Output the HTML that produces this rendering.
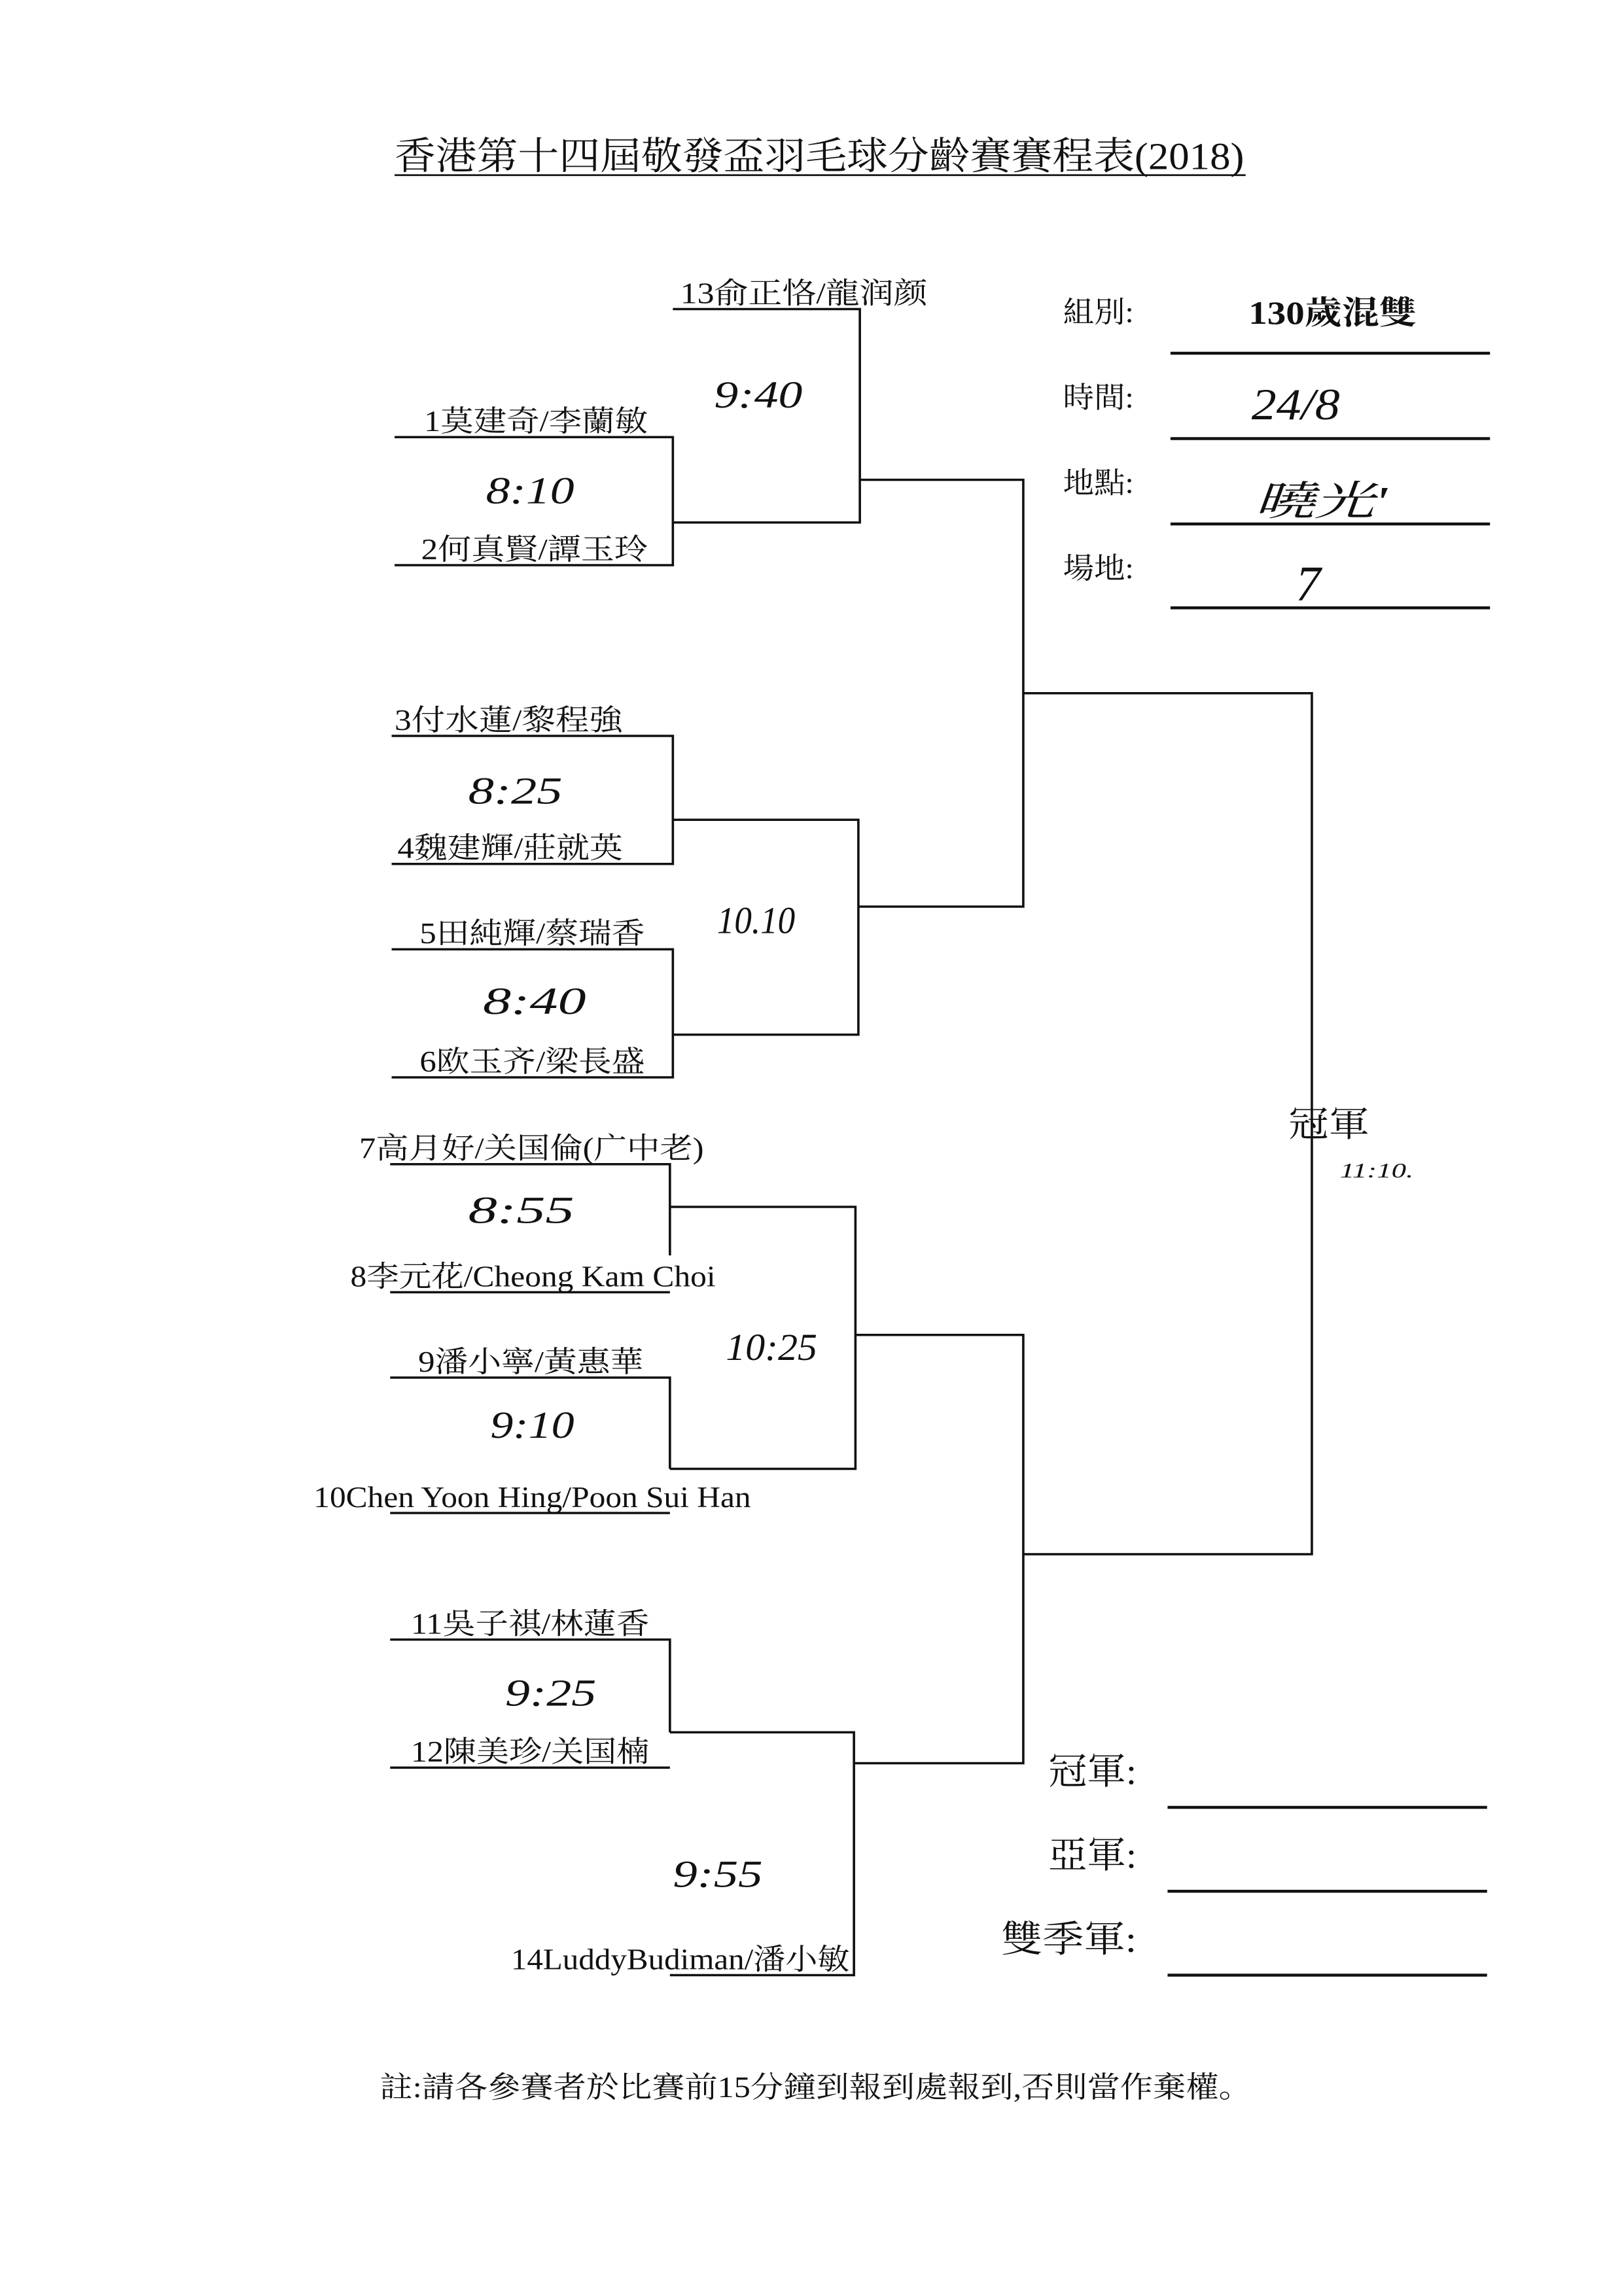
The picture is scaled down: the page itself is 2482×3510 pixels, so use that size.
<!DOCTYPE html>
<html><head><meta charset="utf-8">
<style>
html,body{margin:0;padding:0;background:#fff;}
svg{display:block;}
text{font-family:"Liberation Serif","Noto Serif CJK SC","Noto Sans CJK TC",serif;fill:#111;}
.h{font-style:italic;font-family:"Liberation Serif","Noto Sans CJK TC",serif;}
</style></head>
<body>
<svg width="2482" height="3510" viewBox="0 0 1103 1560" preserveAspectRatio="none" xmlns="http://www.w3.org/2000/svg">
<g stroke="#111" stroke-width="1.6" fill="none">
<!-- title underline -->
<line x1="268" y1="119" x2="846" y2="119" stroke-width="1.2"/>
<!-- top group -->
<polyline points="457,210 584,210 584,355 457,355"/>
<polyline points="268,297 457,297 457,384 268,384"/>
<polyline points="584,326 695,326 695,616 583,616"/>
<!-- 3-6 -->
<polyline points="266,500 457,500 457,587 266,587"/>
<polyline points="266,645 457,645 457,732 266,732"/>
<polyline points="457,557 583,557 583,703 457,703"/>
<!-- semis -->
<polyline points="695,471 891,471 891,1056 695,1056"/>
<!-- 7-10 -->
<polyline points="265,791 455,791 455,853"/>
<line x1="265" y1="878" x2="455" y2="878"/>
<polyline points="265,936 455,936 455,998"/>
<line x1="265" y1="1028" x2="455" y2="1028"/>
<polyline points="455,820 581,820 581,998 455,998"/>
<polyline points="581,907 695,907 695,1198 580,1198"/>
<!-- 11-14 -->
<polyline points="265,1114 455,1114 455,1177"/>
<line x1="265" y1="1201" x2="455" y2="1201"/>
<polyline points="455,1177 580,1177 580,1342 455,1342"/>
<!-- info lines -->
<g stroke-width="2">
<line x1="795" y1="240" x2="1012" y2="240"/>
<line x1="795" y1="298" x2="1012" y2="298"/>
<line x1="795" y1="356" x2="1012" y2="356"/>
<line x1="795" y1="413" x2="1012" y2="413"/>
<line x1="793" y1="1228" x2="1010" y2="1228"/>
<line x1="793" y1="1285" x2="1010" y2="1285"/>
<line x1="793" y1="1342" x2="1010" y2="1342"/>
</g>
</g>
<text x="268" y="115" font-size="26" textLength="577" lengthAdjust="spacingAndGlyphs">香港第十四屆敬發盃羽毛球分齡賽賽程表(2018)</text>
<g font-size="20">
<text x="462" y="206" textLength="168" lengthAdjust="spacingAndGlyphs">13俞正恪/龍润颜</text>
<text x="288" y="293" textLength="152" lengthAdjust="spacingAndGlyphs">1莫建奇/李蘭敏</text>
<text x="286" y="380" textLength="154" lengthAdjust="spacingAndGlyphs">2何真賢/譚玉玲</text>
<text x="268" y="496" textLength="155" lengthAdjust="spacingAndGlyphs">3付水蓮/黎程強</text>
<text x="270" y="583" textLength="153" lengthAdjust="spacingAndGlyphs">4魏建輝/莊就英</text>
<text x="285" y="641" textLength="153" lengthAdjust="spacingAndGlyphs">5田純輝/蔡瑞香</text>
<text x="285" y="728" textLength="153" lengthAdjust="spacingAndGlyphs">6欧玉齐/梁長盛</text>
<text x="244" y="787" textLength="234" lengthAdjust="spacingAndGlyphs">7高月好/关国倫(广中老)</text>
<text x="238" y="874" textLength="248" lengthAdjust="spacingAndGlyphs">8李元花/Cheong Kam Choi</text>
<text x="284" y="932" textLength="153" lengthAdjust="spacingAndGlyphs">9潘小寧/黃惠華</text>
<text x="213" y="1024" textLength="297" lengthAdjust="spacingAndGlyphs">10Chen Yoon Hing/Poon Sui Han</text>
<text x="279" y="1110" textLength="162" lengthAdjust="spacingAndGlyphs">11吳子祺/林蓮香</text>
<text x="279" y="1197" textLength="162" lengthAdjust="spacingAndGlyphs">12陳美珍/关国楠</text>
<text x="347" y="1338" textLength="230" lengthAdjust="spacingAndGlyphs">14LuddyBudiman/潘小敏</text>
<text x="722" y="219" textLength="48" lengthAdjust="spacingAndGlyphs">組別:</text>
<text x="722" y="277" textLength="48" lengthAdjust="spacingAndGlyphs">時間:</text>
<text x="722" y="335" textLength="48" lengthAdjust="spacingAndGlyphs">地點:</text>
<text x="722" y="393" textLength="48" lengthAdjust="spacingAndGlyphs">場地:</text>
<text x="848" y="220" font-size="22" font-weight="bold" textLength="114" lengthAdjust="spacingAndGlyphs">130歲混雙</text>
<text x="875" y="772" font-size="24" textLength="55" lengthAdjust="spacingAndGlyphs">冠軍</text>
<text x="712" y="1212" font-size="25" textLength="60" lengthAdjust="spacingAndGlyphs">冠軍:</text>
<text x="712" y="1269" font-size="25" textLength="60" lengthAdjust="spacingAndGlyphs">亞軍:</text>
<text x="680" y="1326" font-size="25" textLength="92" lengthAdjust="spacingAndGlyphs">雙季軍:</text>
<text x="258" y="1425" textLength="592" lengthAdjust="spacingAndGlyphs">註:請各參賽者於比賽前15分鐘到報到處報到,否則當作棄權。</text>
</g>
<g class="h" font-size="26">
<text x="485" y="277" textLength="60" lengthAdjust="spacingAndGlyphs">9:40</text>
<text x="330" y="342" textLength="60" lengthAdjust="spacingAndGlyphs">8:10</text>
<text x="318" y="546" textLength="64" lengthAdjust="spacingAndGlyphs">8:25</text>
<text x="487" y="634" textLength="53" lengthAdjust="spacingAndGlyphs">10.10</text>
<text x="328" y="689" textLength="70" lengthAdjust="spacingAndGlyphs">8:40</text>
<text x="318" y="831" textLength="72" lengthAdjust="spacingAndGlyphs">8:55</text>
<text x="493" y="924" textLength="62" lengthAdjust="spacingAndGlyphs">10:25</text>
<text x="333" y="977" textLength="57" lengthAdjust="spacingAndGlyphs">9:10</text>
<text x="343" y="1159" textLength="62" lengthAdjust="spacingAndGlyphs">9:25</text>
<text x="457" y="1282" textLength="61" lengthAdjust="spacingAndGlyphs">9:55</text>
<text x="910" y="800" font-size="14" textLength="50" lengthAdjust="spacingAndGlyphs">11:10.</text>
<text x="850" y="285" font-size="30" textLength="60" lengthAdjust="spacingAndGlyphs">24/8</text>
<text x="852" y="350" font-size="28" textLength="90" lengthAdjust="spacingAndGlyphs">曉光'</text>
<text x="880" y="408" font-size="34">7</text>
</g>
</svg>
</body></html>
